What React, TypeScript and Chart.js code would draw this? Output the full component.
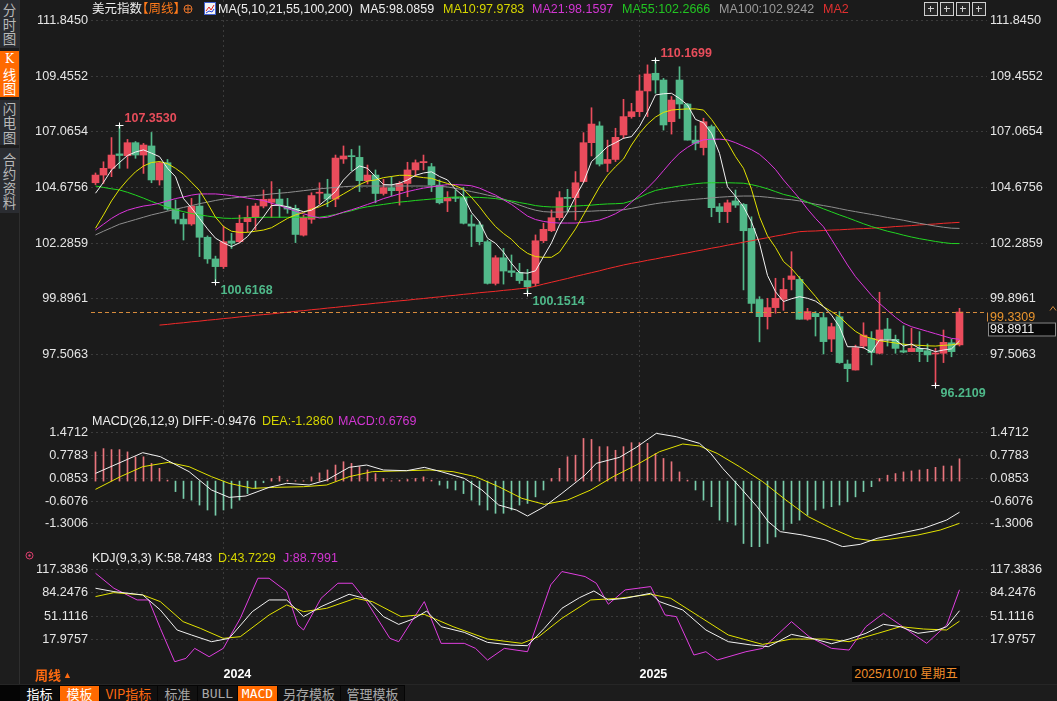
import React, { useEffect, useRef } from "react";
import { Chart, registerables } from "chart.js";

Chart.register(...registerables);

// ---------------- data ----------------
const opens = [104.88,105.21,105.50,106.12,106.04,106.60,106.07,106.46,105.00,105.74,
103.75,103.32,103.11,103.88,102.54,101.61,101.28,102.38,102.35,103.21,
103.39,103.88,104.04,104.18,103.85,103.78,102.63,103.31,104.43,104.40,
104.18,105.90,106.03,105.97,104.97,105.21,104.42,104.67,104.54,104.85,
105.43,105.74,105.57,104.78,104.10,104.25,104.25,103.11,103.07,102.35,
100.56,101.66,101.10,101.03,100.68,100.56,102.39,102.82,103.38,104.25,
104.24,104.93,106.60,107.32,105.71,105.88,106.93,107.72,107.93,108.82,
109.58,109.29,107.50,109.29,108.26,106.71,106.39,107.29,103.85,103.64,
104.10,103.95,102.92,99.87,99.13,99.52,99.88,100.73,100.73,99.02,
99.27,99.09,98.17,99.13,97.10,96.84,97.87,98.20,97.56,98.60,
98.16,97.67,97.63,97.77,97.67,97.53,97.56,98.01,97.92];
const highs = [105.30,105.78,106.82,107.353,106.74,106.65,106.57,107.04,105.79,105.88,
104.14,103.57,104.21,104.38,102.60,101.73,103.02,102.71,103.49,103.88,
103.99,104.57,104.93,104.60,104.21,103.92,103.49,104.45,104.88,105.03,
106.07,106.46,106.31,106.46,105.64,105.43,105.03,105.14,104.93,105.76,
105.86,106.07,105.71,105.00,104.50,104.57,104.68,103.50,103.21,102.42,
101.75,102.06,101.78,101.42,101.16,102.64,103.14,103.71,104.50,104.60,
105.36,107.03,108.10,107.50,106.71,107.22,108.46,108.29,109.51,109.94,
110.1699,109.36,108.58,109.86,108.29,107.32,107.65,107.36,103.99,104.14,
104.57,103.99,103.42,99.99,99.92,100.78,100.78,101.92,100.85,99.49,
99.35,99.30,98.85,99.35,97.27,97.91,98.87,98.49,100.18,99.06,
98.34,98.74,98.63,98.49,97.96,97.77,98.56,98.16,99.49];
const lows = [104.80,104.85,105.14,105.50,105.50,105.93,105.28,104.88,104.78,103.70,
103.14,102.42,103.05,101.71,101.42,100.6168,101.20,102.06,102.30,102.78,
102.85,103.80,103.39,103.39,103.57,102.31,102.59,103.14,103.97,103.85,
103.85,105.71,105.40,104.50,104.83,104.02,104.35,104.31,103.92,104.28,
105.14,105.43,104.50,103.97,103.64,104.07,103.11,102.14,102.21,100.53,
100.49,100.53,100.85,100.56,100.1514,100.45,102.31,102.78,103.28,103.64,
103.28,104.90,106.03,105.60,105.36,105.79,106.78,107.65,107.72,107.72,
108.72,107.14,106.97,107.64,106.71,106.29,106.07,103.42,103.17,103.17,
103.82,100.28,99.30,98.05,98.60,99.28,99.40,100.28,99.02,98.98,
98.30,97.53,97.63,97.13,96.34,96.84,97.77,97.06,97.53,97.87,
97.56,97.58,97.63,97.20,97.20,96.2109,97.16,97.41,97.87];
const closes = [105.21,105.50,106.07,106.05,106.60,106.07,106.50,105.00,105.74,103.75,
103.32,103.11,103.88,102.54,101.61,101.28,102.35,102.28,103.14,103.39,
103.88,104.17,104.18,103.92,103.75,102.66,103.39,104.33,104.46,104.18,
105.94,106.03,106.00,104.97,105.21,104.42,104.67,104.54,104.85,105.43,
105.74,105.79,104.78,104.02,104.25,104.21,103.14,103.02,102.35,100.56,
101.66,101.09,101.03,100.68,100.42,102.39,102.88,103.38,104.24,104.21,
104.88,106.60,107.40,105.68,105.88,106.83,107.72,107.93,108.82,109.55,
109.29,107.36,108.43,108.26,106.71,106.57,107.50,103.81,103.64,104.02,
103.92,102.82,99.70,99.13,99.52,99.92,100.30,100.88,99.02,99.35,
99.13,98.06,98.70,97.16,96.90,97.80,98.34,97.59,98.56,98.16,
97.77,97.61,97.77,97.63,97.49,97.56,98.03,97.63,99.3309];

const ma5 = [104.43,104.90,105.43,105.75,106.05,106.20,106.29,106.15,106.00,105.50,
105.14,104.20,103.80,103.35,102.90,102.50,102.30,102.14,102.30,102.57,
103.00,103.42,103.90,103.92,103.85,103.74,103.64,103.70,103.92,104.20,
104.50,105.00,105.35,105.60,105.50,105.14,104.80,104.79,104.86,105.00,
105.20,105.30,105.35,105.15,105.00,104.60,104.30,103.60,103.20,102.50,
102.28,101.90,101.42,101.02,101.00,101.10,101.71,102.30,103.07,103.60,
104.28,104.90,105.79,106.10,106.43,106.60,106.79,106.86,107.30,107.93,
108.65,108.70,108.72,108.50,108.22,107.60,107.46,107.00,106.14,104.71,
104.30,103.85,103.20,102.28,100.90,100.20,99.78,99.90,99.99,99.92,
99.80,99.56,99.20,98.70,97.84,97.84,97.80,97.60,98.13,98.13,
98.13,97.87,97.96,97.77,97.75,97.63,97.70,97.75,98.09];
const ma10 = [102.93,103.50,104.10,104.60,105.00,105.35,105.60,105.75,105.79,105.70,
105.50,105.25,104.90,104.55,104.00,103.40,103.00,102.80,102.75,102.75,
102.80,102.85,102.95,103.15,103.35,103.50,103.60,103.75,103.85,104.00,
104.20,104.40,104.60,104.80,104.95,105.00,105.10,105.15,105.20,105.20,
105.15,105.10,105.07,104.95,104.85,104.75,104.60,104.25,103.85,103.40,
103.00,102.70,102.45,102.10,101.85,101.71,101.68,101.68,101.90,102.40,
102.90,103.50,104.10,104.70,105.20,105.57,105.90,106.50,107.00,107.40,
107.70,107.90,108.00,108.03,108.05,108.05,108.00,107.60,107.10,106.60,
106.00,105.50,104.60,103.42,102.60,102.10,101.50,101.20,100.80,100.40,
100.00,99.56,99.35,99.13,98.80,98.50,98.30,98.20,98.10,98.05,
98.00,97.95,97.92,97.90,97.88,97.87,97.90,97.92,97.98];
const ma21 = [102.85,103.10,103.35,103.55,103.70,103.80,103.88,103.93,104.00,104.10,
104.20,104.27,104.35,104.40,104.40,104.40,104.37,104.33,104.28,104.22,
104.17,104.12,104.00,103.90,103.78,103.66,103.55,103.45,103.37,103.40,
103.50,103.62,103.72,103.83,103.95,104.07,104.20,104.30,104.40,104.50,
104.58,104.65,104.70,104.75,104.80,104.80,104.78,104.75,104.65,104.50,
104.35,104.15,103.95,103.70,103.45,103.30,103.22,103.17,103.15,103.15,
103.15,103.18,103.22,103.28,103.40,103.55,103.75,104.05,104.35,104.65,
105.00,105.40,105.80,106.15,106.40,106.60,106.72,106.75,106.75,106.72,
106.60,106.45,106.30,106.10,105.80,105.45,105.00,104.60,104.20,103.75,
103.35,102.99,102.45,101.90,101.35,100.85,100.45,100.05,99.70,99.40,
99.10,98.85,98.70,98.60,98.50,98.40,98.30,98.20,98.16];
const ma55 = [104.74,104.68,104.62,104.57,104.47,104.35,104.22,104.08,103.95,103.82,
103.72,103.64,103.56,103.50,103.45,103.40,103.36,103.35,103.36,103.38,
103.39,103.40,103.40,103.40,103.40,103.40,103.40,103.40,103.40,103.45,
103.52,103.60,103.68,103.78,103.85,103.90,103.95,104.00,104.05,104.08,
104.12,104.15,104.18,104.20,104.25,104.27,104.27,104.26,104.25,104.23,
104.20,104.15,104.10,104.03,103.97,103.90,103.86,103.84,103.84,103.86,
103.88,103.90,103.92,103.95,103.97,103.98,104.00,104.10,104.25,104.42,
104.55,104.62,104.68,104.74,104.79,104.84,104.87,104.88,104.88,104.88,
104.87,104.86,104.80,104.72,104.62,104.50,104.38,104.30,104.20,104.05,
103.90,103.76,103.63,103.50,103.38,103.25,103.12,103.00,102.90,102.80,
102.72,102.63,102.55,102.48,102.42,102.36,102.31,102.27,102.27];
const ma100 = [102.64,102.80,102.95,103.10,103.20,103.30,103.40,103.50,103.58,103.66,
103.74,103.82,103.90,103.98,104.05,104.12,104.18,104.22,104.26,104.30,
104.33,104.36,104.40,104.43,104.46,104.50,104.54,104.58,104.62,104.65,
104.68,104.71,104.73,104.74,104.74,104.74,104.74,104.74,104.74,104.74,
104.74,104.74,104.73,104.72,104.70,104.64,104.57,104.50,104.43,104.35,
104.28,104.18,104.05,103.92,103.80,103.70,103.64,103.62,103.62,103.63,
103.64,103.65,103.66,103.68,103.69,103.70,103.72,103.78,103.85,103.92,
103.98,104.03,104.07,104.11,104.14,104.17,104.20,104.23,104.26,104.28,
104.30,104.31,104.31,104.29,104.26,104.22,104.18,104.15,104.10,104.03,
103.96,103.90,103.84,103.77,103.70,103.64,103.58,103.52,103.46,103.39,
103.33,103.27,103.20,103.14,103.08,103.02,102.97,102.93,102.92];
const ma200 = [null,null,null,null,null,null,null,null,98.77,98.80,
98.84,98.87,98.91,98.94,98.98,99.01,99.05,99.08,99.12,99.15,
99.19,99.22,99.25,99.29,99.32,99.36,99.39,99.43,99.46,99.50,
99.53,99.57,99.60,99.64,99.67,99.71,99.74,99.78,99.81,99.84,
99.88,99.91,99.95,99.98,100.02,100.05,100.09,100.12,100.16,100.19,
100.22,100.26,100.29,100.33,100.36,100.44,100.53,100.61,100.69,100.77,
100.86,100.94,101.02,101.10,101.19,101.27,101.35,101.42,101.48,101.55,
101.61,101.68,101.74,101.81,101.87,101.94,102.00,102.07,102.13,102.20,
102.26,102.33,102.39,102.46,102.52,102.59,102.65,102.72,102.78,102.80,
102.81,102.83,102.85,102.86,102.88,102.90,102.91,102.93,102.95,102.97,
103.00,103.02,103.04,103.07,103.09,103.11,103.14,103.16,103.18];

const macdHist = [0.89,0.99,0.96,0.96,0.89,0.74,0.74,0.54,0.39,0.03,
-0.32,-0.53,-0.58,-0.73,-0.88,-1.04,-0.88,-0.83,-0.58,-0.38,
-0.22,-0.05,0.08,0.15,0.03,0.01,0.01,0.13,0.25,0.34,
0.49,0.59,0.54,0.44,0.34,0.23,0.08,0.01,0.03,0.05,
0.08,0.13,0.03,-0.12,-0.22,-0.27,-0.38,-0.58,-0.73,-0.88,
-0.98,-0.98,-0.88,-0.73,-0.68,-0.48,-0.27,0.08,0.39,0.74,
0.79,1.30,1.27,1.05,1.05,0.94,1.05,1.17,1.17,1.15,
0.84,0.69,0.59,0.28,0.03,-0.27,-0.58,-0.78,-1.19,-1.24,
-1.34,-1.90,-2.00,-2.00,-1.90,-1.70,-1.49,-1.29,-1.19,-1.04,
-0.88,-0.83,-0.78,-0.73,-0.63,-0.48,-0.32,-0.17,0.08,0.18,
0.23,0.28,0.31,0.34,0.36,0.42,0.46,0.46,0.68];
const diffPts = [[0,0.236],[5.9,0.866],[8.1,0.744],[11.7,0.287],[14.5,-0.271],[16.7,-0.495],[18.8,-0.454],[21.7,-0.19],[23.9,-0.068],[26.7,-0.119],[28.9,0.033],[31.7,0.419],[33.9,0.49],[36,0.338],[38.9,0.317],[41.1,0.419],[43.2,0.287],[46.1,0.084],[48.3,-0.271],[50.4,-0.728],[52.6,-0.88],[54,-1.063],[56.1,-0.779],[58.3,-0.373],[61.2,0.185],[62.6,0.541],[65.5,0.724],[67.6,1.028],[70.1,1.454],[72.6,1.353],[75.5,1.15],[76.9,0.845],[78.4,0.388],[80.5,-0.17],[82.7,-0.779],[84.1,-1.236],[85.6,-1.54],[88.4,-1.642],[91.3,-1.794],[93.4,-1.997],[95.6,-1.926],[97.7,-1.743],[100.6,-1.591],[103.5,-1.439],[106.4,-1.185],[108,-0.948]];
const deaPts = [[0,-0.251],[3.1,0.135],[5.9,0.439],[9.1,0.571],[11.7,0.439],[14.5,0.135],[16.7,-0.068],[19.6,-0.221],[22.4,-0.19],[26,-0.17],[28.9,-0.119],[31.7,0.135],[34.6,0.287],[38.9,0.317],[41.8,0.338],[44.7,0.287],[47.5,0.135],[50.4,-0.17],[53.3,-0.525],[56.1,-0.708],[59,-0.576],[61.9,-0.271],[64.7,0.135],[67.6,0.49],[70.5,0.896],[73.4,1.13],[75.5,1.069],[77.7,0.845],[80.5,0.439],[83.4,-0.018],[86.3,-0.576],[89.1,-1.083],[92,-1.439],[94.9,-1.743],[97,-1.814],[99.2,-1.774],[102.8,-1.642],[105.6,-1.49],[108,-1.286]];
const kPts = [[0,91],[2.3,86.2],[5.9,81.4],[8.1,59.8],[10.2,31],[12,23.8],[14.5,14.2],[16.7,19],[19.6,57.4],[21.7,74.2],[23.9,74.2],[26,50.2],[28.2,64.6],[31.7,82.4],[33.9,75.6],[36,50.2],[37.9,39.1],[39.7,46.8],[41.4,58.3],[43.2,35.8],[46.1,27.6],[49,13.2],[51.9,9.4],[54,8.4],[56.1,33.4],[58.3,62.2],[60.5,77.5],[62.3,87.1],[64.1,74.2],[66.2,76.6],[69.4,83.8],[70.5,71.8],[73.4,59.8],[76.3,31],[79.1,14.2],[82,9.4],[84.1,7],[87,24.7],[89.9,18],[92,11.3],[94.2,18],[96.3,26.2],[98.5,39.1],[100.6,35.8],[102.8,26.2],[104.9,29.5],[106.4,35.8],[108,58.7]];
const dPts = [[0,79],[2.3,84.7],[5.9,81.4],[8.1,71.8],[10.95,43],[13.1,33.4],[15.97,19],[18.1,21.4],[21.7,52.6],[23.9,67],[26,57.4],[28.9,62.2],[32.5,76.6],[34.6,71.8],[38.2,50.2],[41.1,53.5],[44.7,35.8],[49,18],[53.3,11.8],[55.4,21.4],[58.3,47.8],[61.9,74.2],[65.5,76.6],[69.4,82.4],[71.9,76.6],[75.5,50.2],[79.1,23.8],[83.4,10.3],[87,18],[91.3,18],[94.2,14.2],[97.8,26.2],[100.6,35.8],[103.5,32.4],[106.4,31],[108,43.7]];
const jPts = [[0,112.6],[2.3,91],[5.2,74.2],[6.65,74.2],[8.1,33.4],[9.9,-14.6],[11.3,-9.8],[12.4,4.6],[14.2,-7.4],[15.97,4.6],[18.1,47.8],[20.3,105.4],[21.7,105.4],[23.9,86.2],[25.3,38.2],[26,31],[28.2,76.6],[30.3,98.2],[32.1,98.2],[33.9,71.8],[36.8,19],[37.9,14.2],[41.1,71.8],[43.2,11.8],[46.1,11.8],[47.5,4.6],[49,-12.2],[51.1,4.6],[54,-0.2],[56.9,95.8],[58.3,115],[61.2,107.8],[62.6,98.2],[64.1,68],[66.2,88.6],[69.4,93.4],[71.2,52.6],[72.6,50.2],[74.8,-5],[76.3,-0.2],[77.7,-12.2],[81.3,-0.2],[83.4,4.6],[87,43],[89.2,21.4],[92,4.6],[94.2,2.2],[96.3,35.8],[98.5,55],[100.6,38.2],[103.9,11.8],[106.4,38.2],[108,88.8]];

const mainTicks = [111.845, 109.4552, 107.0654, 104.6756, 102.2859, 99.8961, 97.5063];
const macdTicks = [1.4712, 0.7783, 0.0853, -0.6076, -1.3006];
const kdjTicks = [117.3836, 84.2476, 51.1116, 17.9757];
const yearIdx = [16, 68];
const yearLabels = ["2024", "2025"];
const extremes = [
  { i: 3, hi: true },
  { i: 15, hi: false },
  { i: 54, hi: false },
  { i: 70, hi: true },
  { i: 105, hi: false },
];
const cursorValue = 98.8911;

// ---------------- style ----------------
const BG = "#1b1b1b";
const GRID = "#3b3b3b";
const UP = "#ea4c5c";
const DOWN = "#52b98a";
const TXT = "#e6e6e6";
const NUM = '"Liberation Sans", Arial, sans-serif';
const CJK = '"Liberation Sans", "Noto Sans CJK SC", sans-serif';
const W = 1057;
const AXL = 91;
const AXR = 70;
const SLOT = 8;
const X_MIN = -0.5625;
const X_MAX = X_MIN + (W - AXL - AXR) / SLOT;

const pts = (arr: any[]) => arr.map((v: any, i: number) => ({ x: i, y: v }));
const pairPts = (arr: number[][]) => arr.map(([x, y]) => ({ x, y }));

function xAxis(showLabels: boolean) {
  return {
    type: "linear",
    min: X_MIN,
    max: X_MAX,
    offset: false,
    afterBuildTicks: (s: any) => {
      s.ticks = yearIdx.map((v) => ({ value: v }));
    },
    afterFit: (s: any) => {
      s.height = showLabels ? 22 : 0;
      s.paddingLeft = 0;
      s.paddingRight = 0;
      s.paddingTop = 0;
      s.paddingBottom = 0;
    },
    grid: { display: true, color: GRID, drawTicks: false, offset: false },
    border: { display: false, dash: [2, 3] },
    ticks: {
      display: showLabels,
      autoSkip: false,
      maxRotation: 0,
      align: "start",
      padding: 5,
      color: "#ffffff",
      font: { family: NUM, size: 12.5, weight: "bold" },
      callback: (v: number) => {
        const k = yearIdx.indexOf(v);
        return k >= 0 ? yearLabels[k] : "";
      },
    },
  };
}

function yAxis(pos: string, min: number, max: number, ticks: number[]) {
  return {
    type: "linear",
    position: pos,
    min,
    max,
    afterBuildTicks: (s: any) => {
      s.ticks = ticks.map((v) => ({ value: v }));
    },
    afterFit: (s: any) => {
      s.width = pos === "left" ? AXL : AXR;
      s.paddingTop = 0;
      s.paddingBottom = 0;
      s.paddingLeft = 0;
      s.paddingRight = 0;
    },
    grid: { display: pos === "left", color: GRID, drawTicks: false },
    border: { display: false, dash: [2, 3] },
    ticks: {
      autoSkip: false,
      padding: 3,
      color: TXT,
      font: { family: NUM, size: 12.7 },
      callback: (v: number) => v.toFixed(4),
    },
  };
}

const baseOpts = {
  responsive: false,
  animation: false,
  events: [],
  layout: { padding: 0, autoPadding: false },
  plugins: { legend: { display: false }, tooltip: { enabled: false } },
};

const annotPlugin = {
  id: "annot",
  afterDatasetsDraw(chart: any) {
    const { ctx, chartArea, scales } = chart;
    const xs = scales.x;
    const ys = scales.y;
    ctx.save();
    const last = closes[closes.length - 1];
    const ly = Math.round(ys.getPixelForValue(last)) + 0.5;
    ctx.strokeStyle = "#d68b3c";
    ctx.lineWidth = 1;
    ctx.setLineDash([4, 3]);
    ctx.beginPath();
    ctx.moveTo(chartArea.left, ly);
    ctx.lineTo(chartArea.right, ly);
    ctx.stroke();
    ctx.setLineDash([]);
    ctx.font = `bold 12.5px ${NUM}`;
    ctx.textAlign = "left";
    extremes.forEach((m) => {
      const v = m.hi ? highs[m.i] : lows[m.i];
      const px = Math.floor(xs.getPixelForValue(m.i)) + 0.5;
      const py = Math.round(ys.getPixelForValue(v)) + 0.5;
      ctx.strokeStyle = "#ffffff";
      ctx.beginPath();
      ctx.moveTo(px - 4, py);
      ctx.lineTo(px + 4, py);
      ctx.moveTo(px, py - 3);
      ctx.lineTo(px, py + 3);
      ctx.stroke();
      ctx.fillStyle = m.hi ? "#e84d5b" : "#4fb98a";
      ctx.textBaseline = m.hi ? "bottom" : "top";
      ctx.fillText(v.toFixed(4), px + 5, m.hi ? py - 1 : py + 2);
    });
    ctx.restore();
  },
  afterDraw(chart: any) {
    const { ctx, chartArea, scales } = chart;
    const ys = scales.y;
    ctx.save();
    const last = closes[closes.length - 1];
    const ly = Math.round(ys.getPixelForValue(last)) + 0.5;
    ctx.font = `12.5px ${NUM}`;
    ctx.textBaseline = "middle";
    ctx.textAlign = "left";
    // current price tag
    ctx.fillStyle = "#e8942e";
    ctx.fillText(last.toFixed(4), chartArea.right + 3, ly + 5);
    // right edge tick of last price line
    ctx.strokeStyle = "#d68b3c";
    ctx.beginPath();
    ctx.moveTo(chartArea.right + 0.5, ly);
    ctx.lineTo(chartArea.right + 0.5, ly + 9);
    ctx.stroke();
    // small arrow marker
    ctx.beginPath();
    ctx.moveTo(chartArea.right + 63, ly - 2);
    ctx.lineTo(chartArea.right + 66, ly - 6);
    ctx.lineTo(chartArea.right + 69, ly - 2);
    ctx.stroke();
    // cursor value box
    const cy = ly + 17;
    ctx.fillStyle = "#0b0b0b";
    ctx.fillRect(chartArea.right + 1, cy - 7, 68, 14);
    ctx.strokeStyle = "#8a8a8a";
    ctx.strokeRect(chartArea.right + 1.5, cy - 6.5, 67, 13);
    ctx.fillStyle = "#f0f0f0";
    ctx.fillText(cursorValue.toFixed(4), chartArea.right + 3, cy);
    ctx.restore();
  },
};

function mainConfig(): any {
  const colors = closes.map((c, i) => (c >= opens[i] ? UP : DOWN));
  const line = (data: any[], color: string, order: number) => ({
    type: "line",
    data: pts(data),
    borderColor: color,
    borderWidth: 1,
    pointRadius: 0,
    tension: 0,
    order,
  });
  return {
    type: "bar",
    data: {
      datasets: [
        line(ma5, "#f2f2f2", 1),
        line(ma10, "#e3e300", 2),
        line(ma21, "#dd36dd", 3),
        line(ma55, "#22d622", 4),
        line(ma100, "#8e8e8e", 5),
        line(ma200, "#f22a2a", 6),
        {
          type: "bar",
          data: opens.map((o, i) => ({ x: i, y: [o, closes[i]] })),
          backgroundColor: colors,
          barThickness: 7,
          minBarLength: 1,
          grouped: false,
          borderWidth: 0,
          order: 9,
        },
        {
          type: "bar",
          data: lows.map((l, i) => ({ x: i, y: [l, highs[i]] })),
          backgroundColor: colors,
          barThickness: 1,
          grouped: false,
          borderWidth: 0,
          order: 10,
        },
      ],
    },
    options: {
      ...baseOpts,
      scales: {
        x: xAxis(false),
        y: yAxis("left", 95.039, 112.725, mainTicks),
        yR: yAxis("right", 95.039, 112.725, mainTicks),
      },
    },
    plugins: [annotPlugin],
  };
}

function macdConfig(): any {
  return {
    type: "bar",
    data: {
      datasets: [
        {
          type: "line",
          data: pairPts(diffPts),
          borderColor: "#f2f2f2",
          borderWidth: 1,
          pointRadius: 0,
          order: 1,
        },
        {
          type: "line",
          data: pairPts(deaPts),
          borderColor: "#e3e300",
          borderWidth: 1,
          pointRadius: 0,
          order: 2,
        },
        {
          type: "bar",
          data: pts(macdHist),
          backgroundColor: macdHist.map((v) => (v >= 0 ? "#e8747c" : "#78ccaa")),
          barThickness: 1,
          grouped: false,
          borderWidth: 0,
          order: 5,
        },
      ],
    },
    options: {
      ...baseOpts,
      scales: {
        x: xAxis(false),
        y: yAxis("left", -2.007, 2.105, macdTicks),
        yR: yAxis("right", -2.007, 2.105, macdTicks),
      },
    },
  };
}

function kdjConfig(): any {
  const l = (data: number[][], color: string, order: number) => ({
    type: "line",
    data: pairPts(data),
    borderColor: color,
    borderWidth: 1,
    pointRadius: 0,
    order,
  });
  return {
    type: "line",
    data: {
      datasets: [l(kPts, "#f2f2f2", 1), l(dPts, "#e3e300", 2), l(jPts, "#e03ee0", 3)],
    },
    options: {
      ...baseOpts,
      scales: {
        x: xAxis(true),
        y: yAxis("left", -15, 150.3, kdjTicks),
        yR: yAxis("right", -15, 150.3, kdjTicks),
      },
    },
  };
}

const abs = (x: number, y: number, extra: any = {}) => ({
  position: "absolute" as const,
  left: x,
  top: y,
  whiteSpace: "nowrap" as const,
  ...extra,
});

function Txt({ x, y, c, s = 12.5, w = 400, f = CJK, children }: any) {
  return (
    <span style={abs(x, y, { color: c, fontSize: s, fontWeight: w, fontFamily: f, lineHeight: "16px" })}>
      {children}
    </span>
  );
}

function VTab({ top, h, chars, active }: any) {
  return (
    <div
      style={abs(0, top, {
        width: 19,
        height: h,
        background: active ? "#ff6a00" : "#2a2c31",
        color: active ? "#ffffff" : "#b8b8b8",
        display: "flex",
        flexDirection: "column",
        alignItems: "center",
        justifyContent: "center",
        fontFamily: '"Noto Sans CJK SC", sans-serif',
        fontSize: 13.5,
        lineHeight: "14.5px",
      })}
    >
      {chars.map((ch: string, k: number) => (
        <span key={k} style={ch === "K" ? { fontFamily: '"DejaVu Serif", serif', fontSize: 12 } : {}}>
          {ch}
        </span>
      ))}
    </div>
  );
}

function BTab({ x, w, label, bg, c, f = '"Noto Sans CJK SC", sans-serif' }: any) {
  return (
    <div
      style={abs(x, 686, {
        width: w,
        height: 15,
        background: bg,
        color: c,
        fontFamily: f,
        fontSize: 13,
        lineHeight: "15px",
        textAlign: "center",
      })}
    >
      {label}
    </div>
  );
}

function Icon({ x }: any) {
  return (
    <div
      style={abs(x, 2, {
        width: 12,
        height: 12,
        border: "1px solid #cfcfcf",
        background: "#262626",
      })}
    >
      <div style={abs(3, 5, { width: 6, height: 1, background: "#cfcfcf" })} />
      <div style={abs(5, 3, { width: 1, height: 6, background: "#cfcfcf" })} />
    </div>
  );
}

export default function App() {
  const mainRef = useRef<HTMLCanvasElement>(null);
  const macdRef = useRef<HTMLCanvasElement>(null);
  const kdjRef = useRef<HTMLCanvasElement>(null);

  useEffect(() => {
    document.body.style.margin = "0";
    document.body.style.background = BG;
    const charts = [
      new Chart(mainRef.current as any, mainConfig()),
      new Chart(macdRef.current as any, macdConfig()),
      new Chart(kdjRef.current as any, kdjConfig()),
    ];
    return () => charts.forEach((c) => c.destroy());
  }, []);

  return (
    <div style={{ position: "relative", width: W, height: 701, background: BG, overflow: "hidden" }}>
      <canvas ref={mainRef} width={W} height={412} style={abs(0, 0, { width: W, height: 412 })} />
      <canvas ref={macdRef} width={W} height={135} style={abs(0, 412, { width: W, height: 135 })} />
      <canvas ref={kdjRef} width={W} height={137} style={abs(0, 547, { width: W, height: 137 })} />

      {/* header */}
      <Txt x={92} y={1} c="#eeeeee">美元指数</Txt>
      <Txt x={136} y={1} c="#ff7a1a">【周线】</Txt>
      <svg style={abs(183, 4)} width={10} height={10}>
        <circle cx={5} cy={5} r={4} stroke="#e8742a" fill="none" strokeWidth={1} />
        <line x1={1} y1={5} x2={9} y2={5} stroke="#e8742a" />
        <line x1={5} y1={1} x2={5} y2={9} stroke="#e8742a" />
      </svg>
      <svg style={abs(204, 2)} width={12} height={13}>
        <rect x={0.5} y={0.5} width={11} height={12} fill="#f4f4f4" stroke="#4060d0" />
        <polyline points="2,9 5,5 7,8 10,3" stroke="#e02020" fill="none" />
        <polyline points="2,11 5,9 8,10 10,7" stroke="#2040e0" fill="none" />
      </svg>
      <Txt x={218} y={1} c="#eeeeee" f={NUM}>MA(5,10,21,55,100,200)&nbsp; MA5:98.0859</Txt>
      <Txt x={443} y={1} c="#d6d600" f={NUM}>MA10:97.9783</Txt>
      <Txt x={532} y={1} c="#d236d2" f={NUM}>MA21:98.1597</Txt>
      <Txt x={622} y={1} c="#22c422" f={NUM}>MA55:102.2666</Txt>
      <Txt x={719} y={1} c="#9a9a9a" f={NUM}>MA100:102.9242</Txt>
      <Txt x={823} y={1} c="#e03030" f={NUM}>MA2</Txt>
      <Icon x={924} />
      <Icon x={940} />
      <Icon x={956} />
      <Icon x={972} />

      {/* MACD title */}
      <Txt x={92} y={413} c="#eeeeee" f={NUM}>MACD(26,12,9) DIFF:-0.9476</Txt>
      <Txt x={262} y={413} c="#d6d600" f={NUM}>DEA:-1.2860</Txt>
      <Txt x={338} y={413} c="#d236d2" f={NUM}>MACD:0.6769</Txt>

      {/* KDJ title */}
      <svg style={abs(25, 551)} width={9} height={9}>
        <circle cx={4.5} cy={4.5} r={3.5} stroke="#e04070" fill="none" />
        <circle cx={4.5} cy={4.5} r={1.2} fill="#e04070" />
      </svg>
      <Txt x={92} y={550} c="#eeeeee" f={NUM}>KDJ(9,3,3) K:58.7483</Txt>
      <Txt x={218} y={550} c="#d6d600" f={NUM}>D:43.7229</Txt>
      <Txt x={283} y={550} c="#d236d2" f={NUM}>J:88.7991</Txt>

      {/* left tabs */}
      <div style={abs(0, 0, { width: 19, height: 685, background: "#1d1d1d", borderRight: "1px solid #2e2e2e" })} />
      <VTab top={0} h={48} chars={["分", "时", "图"]} />
      <VTab top={51} h={46} chars={["K", "线", "图"]} active />
      <VTab top={100} h={45} chars={["闪", "电", "图"]} />
      <VTab top={148} h={65} chars={["合", "约", "资", "料"]} />

      {/* bottom */}
      <Txt x={35} y={667} c="#ff6a10" s={13} w={700} f='"Noto Sans CJK SC", sans-serif'>周线</Txt>
      <Txt x={63} y={667} c="#ff6a10" s={9}>▲</Txt>
      <div
        style={abs(852, 666, {
          width: 108,
          height: 16,
          background: "#050505",
          color: "#ee8c2a",
          fontFamily: CJK,
          fontSize: 12.5,
          lineHeight: "16px",
          textAlign: "center",
        })}
      >
        2025/10/10 星期五
      </div>
      <div style={abs(0, 684, { width: W, height: 17, background: "#1c1c1c", borderTop: "1px solid #262626" })} />
      <div style={abs(0, 685, { width: 405, height: 16, background: "#050505" })} />
      <BTab x={20} w={39} label="指标" bg="#0a0a0a" c="#ffffff" />
      <BTab x={60} w={39} label="模板" bg="#ff6a00" c="#ffffff" />
      <BTab x={100} w={57} label="VIP指标" bg="#111111" c="#ff6a10" />
      <BTab x={158} w={39} label="标准" bg="#111111" c="#a8a8a8" />
      <BTab x={198} w={39} label="BULL" bg="#111111" c="#a8a8a8" f='"DejaVu Sans Mono", monospace' />
      <BTab x={238} w={39} label="MACD" bg="#ff6a00" c="#ffffff" f='"DejaVu Sans Mono", monospace' />
      <BTab x={278} w={62} label="另存模板" bg="#111111" c="#a8a8a8" />
      <BTab x={341} w={63} label="管理模板" bg="#111111" c="#a8a8a8" />
    </div>
  );
}
